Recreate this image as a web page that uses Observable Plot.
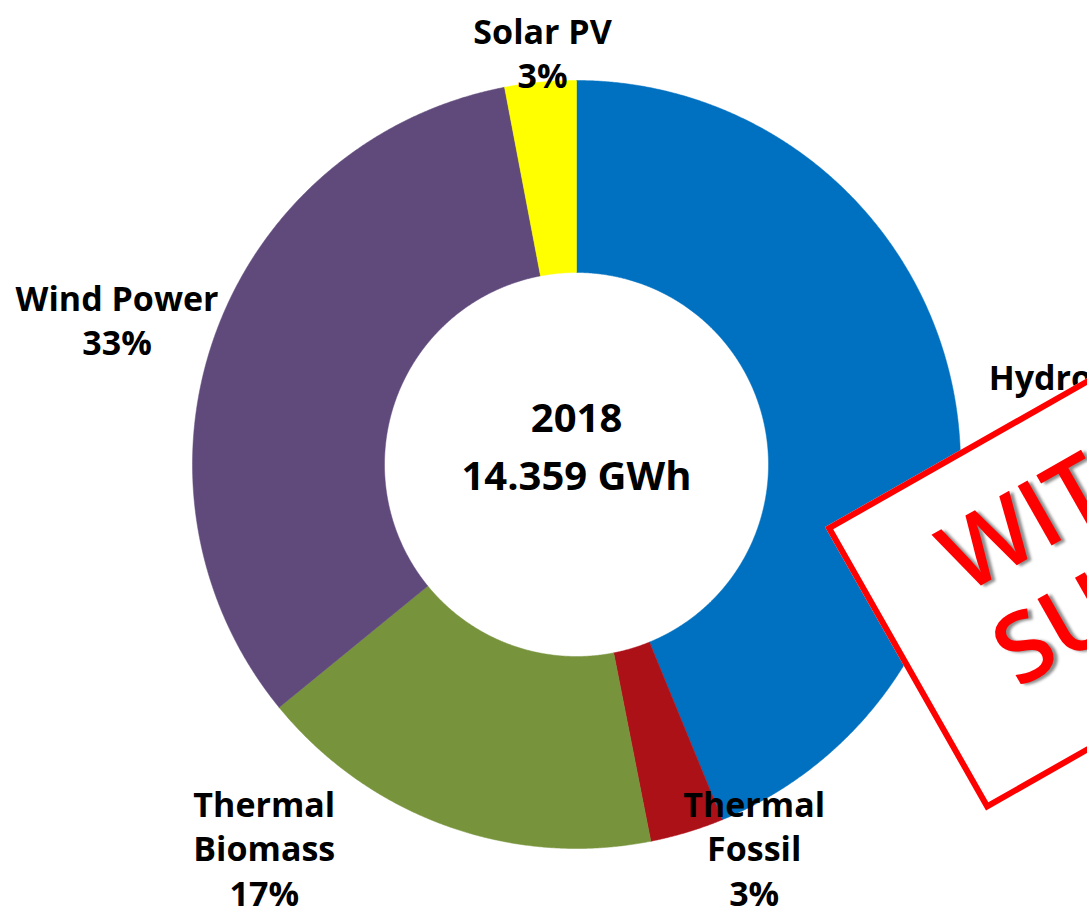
<!DOCTYPE html>
<html>
<head>
<meta charset="utf-8">
<script src="https://cdn.jsdelivr.net/npm/d3@7"></script>
<script src="https://cdn.jsdelivr.net/npm/@observablehq/plot@0.6"></script>
<style>
  html, body { margin: 0; padding: 0; background: #fff; overflow: hidden; }
  #wrap { position: relative; width: 1087px; height: 917px; overflow: hidden; background: #fff; }
  #chart svg { display: block; }
  #stamp {
    position: absolute; left: 825px; top: 527px;
    width: 620px; height: 326px; box-sizing: border-box;
    border: 6px solid #ff0000; background: #fff;
    transform-origin: 0 0; transform: rotate(-29.6deg);
    font-family: "Open Sans", sans-serif; font-weight: 600; color: #ff0000;
    font-size: 96px; line-height: 96px; white-space: nowrap;
    text-shadow: 3px 3px 3px rgba(0,0,0,0.45);
  }
  #stamp .l { position: absolute; left: 82px; }
</style>
</head>
<body>
<div id="wrap">
  <div id="chart"></div>
  <div id="stamp"><div class="l" style="top:37px">WITHDRAWN</div><div class="l" style="top:145px">SUPERSEDED</div></div>
</div>
<script>
// ---- data ----
const categories = ["Hydro Power", "Thermal Fossil", "Thermal Biomass", "Wind Power", "Solar PV"];
const shares = [43.8, 3.1, 17.2, 32.9, 3.0];           // % of 2018 generation
const labelNames = ["Hydro Power", "Thermal\nFossil", "Thermal\nBiomass", "Wind Power", "Solar PV"];
const colors = ["#0070C0", "#AD1118", "#77933C", "#604A7B", "#FFFF00"];
const centerYear = "2018";
const centerTotal = "14.359 GWh";

// ---- layout ----
const R_OUT = 384, R_IN = 192;
// label placement (angle in degrees clockwise from 12 o'clock, radius in px)
const labelAngle = [82.7, 155.1, 219.2, 287.6, 355.3];
const labelRadius = [526, 422, 494, 482, 414];

const rows = categories.map((name, i) => ({name, share: shares[i]}));
const arcs = d3.pie().sort(null).value(d => d.share)(rows);

const polar = (a, r) => ({x: r * Math.sin(a), y: r * Math.cos(a)});
const pts = [];
for (const arc of arcs) {
  const n = Math.max(2, Math.ceil((arc.endAngle - arc.startAngle) / (Math.PI / 720)));
  const ring = [];
  for (let k = 0; k <= n; k++) ring.push(polar(arc.startAngle + (arc.endAngle - arc.startAngle) * k / n, R_OUT));
  for (let k = n; k >= 0; k--) ring.push(polar(arc.startAngle + (arc.endAngle - arc.startAngle) * k / n, R_IN));
  ring.push(ring[0]);
  for (const p of ring) pts.push({name: arc.data.name, x: p.x, y: p.y});
}

const labels = arcs.map((arc, i) => {
  const p = polar(labelAngle[i] * Math.PI / 180, labelRadius[i]);
  return {x: p.x, y: p.y, text: labelNames[i] + "\n" + Math.round(arc.data.share) + "%"};
});

const chart = Plot.plot({
  width: 1087,
  height: 917,
  margin: 0,
  x: {domain: [-576, 511], axis: null},
  y: {domain: [-453, 464], axis: null},
  color: {domain: categories, range: colors},
  style: {fontFamily: "'Open Sans', sans-serif", background: "white", overflow: "visible"},
  marks: [
    Plot.line(pts, {x: "x", y: "y", z: "name", fill: "name", stroke: "name", strokeWidth: 0.5, curve: "linear"}),
    Plot.text(labels, {x: "x", y: "y", text: "text", fontSize: 34, fontWeight: "bold", lineHeight: 1.3, fill: "black"}),
    Plot.text([{x: 0, y: 0, text: centerYear + "\n" + centerTotal}], {x: "x", y: "y", text: "text", dy: -22, fontSize: 40, fontWeight: "bold", lineHeight: 1.45, fill: "black"})
  ]
});
document.getElementById("chart").appendChild(chart);
</script>
</body>
</html>
